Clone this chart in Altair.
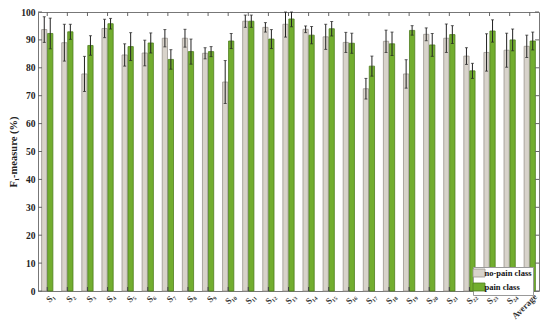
import altair as alt
import pandas as pd

groups = ["S₁", "S₂", "S₃", "S₄", "S₅", "S₆", "S₇", "S₈", "S₉", "S₁₀", "S₁₁", "S₁₂",
          "S₁₃", "S₁₄", "S₁₅", "S₁₆", "S₁₇", "S₁₈", "S₁₉", "S₂₀", "S₂₁", "S₂₂", "S₂₃", "S₂₄",
          "Average"]
series = ["no-pain class", "pain class"]

nopain_mean = [93.7, 89.0, 77.8, 94.1, 84.6, 85.3, 90.6, 90.6, 85.2, 74.9, 96.7, 94.5,
               95.6, 93.8, 91.1, 89.1, 72.5, 89.5, 77.8, 92.0, 90.6, 84.2, 85.5, 86.3, 87.7]
nopain_err = [4.6, 6.6, 6.3, 3.3, 4.0, 4.6, 3.1, 3.2, 2.0, 7.7, 2.2, 1.7,
              4.6, 1.2, 4.5, 3.6, 3.7, 4.0, 5.1, 2.3, 5.1, 3.0, 6.7, 6.1, 4.0]
pain_mean = [92.3, 92.9, 88.0, 95.8, 87.6, 88.9, 83.0, 85.8, 85.8, 89.6, 96.7, 90.3,
             97.5, 91.7, 94.0, 88.8, 80.6, 88.6, 93.4, 88.2, 91.9, 78.9, 93.2, 90.0, 89.6]
pain_err = [5.5, 2.7, 3.5, 1.9, 5.0, 3.6, 3.5, 4.5, 1.8, 2.7, 2.2, 3.4,
            2.8, 3.1, 2.6, 3.6, 3.6, 4.2, 1.7, 4.1, 3.2, 2.7, 4.0, 3.9, 3.2]
y_ticks = [0, 10, 20, 30, 40, 50, 60, 70, 80, 90, 100]

rows = []
for s, means, errs in [(series[0], nopain_mean, nopain_err), (series[1], pain_mean, pain_err)]:
    for g, m, e in zip(groups, means, errs):
        rows.append({"group": g, "series": s, "mean": m,
                     "lo": m - e, "hi": min(m + e, 100)})
df = pd.DataFrame(rows)
gdf = pd.DataFrame({"group": groups})
ydf = pd.DataFrame({"v": y_ticks})

W, H = 501, 279
FONT = "Liberation Serif"

xscale = alt.Scale(domain=groups, paddingInner=0.44, paddingOuter=0.18)
xoff = alt.Scale(domain=series, paddingInner=0.12)
yscale = alt.Scale(domain=[0, 100], nice=False)

x_axis = alt.Axis(title=None, labelAngle=-45, labelFont=FONT, labelFontWeight="bold",
                  labelFontSize=9, labelColor="#333", ticks=False, domain=False,
                  labelPadding=1, labelAlign="right", labelBaseline="top",
                  labelOverlap=False, labelOffset=3)
y_axis = alt.Axis(values=y_ticks, title="F₁-measure (%)", titleFont=FONT,
                  titleFontWeight="bold", titleFontSize=10.5, titleColor="#222",
                  labelFont=FONT, labelFontWeight="bold", labelFontSize=9.5,
                  labelColor="#222", ticks=False, domain=False, grid=False,
                  labelPadding=3, titleX=-20, labelOverlap=False, labelFlush=False)

xa = alt.X("group:N", scale=xscale, sort=groups, axis=x_axis)
xo = alt.XOffset("series:N", scale=xoff, sort=series)

bars = alt.Chart(df).mark_bar(strokeWidth=0.8).encode(
    x=xa,
    xOffset=xo,
    y=alt.Y("mean:Q", scale=yscale, axis=y_axis, title="F₁-measure (%)"),
    fill=alt.Fill("series:N", sort=series,
                  scale=alt.Scale(domain=series, range=["#d8d3cb", "#72ad2f"]),
                  legend=alt.Legend(title=None, orient="none", legendX=435, legendY=255,
                                    labelFont=FONT, labelFontWeight="bold", labelFontSize=8.5,
                                    labelColor="#111",
                                    symbolType="M-1.5,-1L1.5,-1L1.5,1L-1.5,1Z",
                                    symbolSize=64, symbolStrokeWidth=0.8,
                                    fillColor="white", strokeColor="#999", padding=1.5,
                                    rowPadding=1, labelOffset=1)),
    stroke=alt.Stroke("series:N", sort=series,
                      scale=alt.Scale(domain=series, range=["#9a968f", "#4f7f1f"]),
                      legend=None),
)

err = alt.Chart(df).mark_rule(color="#222", strokeWidth=1).encode(
    x=xa,
    xOffset=xo,
    y=alt.Y("lo:Q", scale=yscale, axis=y_axis, title="F₁-measure (%)"),
    y2="hi:Q",
)
cap_hi = alt.Chart(df).mark_tick(color="#222", size=3, thickness=1).encode(
    x=xa,
    xOffset=xo,
    y=alt.Y("hi:Q", scale=yscale, axis=y_axis, title="F₁-measure (%)"),
)
cap_lo = alt.Chart(df).mark_tick(color="#222", size=3, thickness=1).encode(
    x=xa,
    xOffset=xo,
    y=alt.Y("lo:Q", scale=yscale, axis=y_axis, title="F₁-measure (%)"),
)

tick_col = "#666"
xt_top = alt.Chart(gdf).mark_rule(color=tick_col, strokeWidth=1).encode(
    x=xa, y=alt.value(0), y2=alt.value(4))
xt_bot = alt.Chart(gdf).mark_rule(color="#444", strokeWidth=1).encode(
    x=xa, y=alt.value(H - 4), y2=alt.value(H))
yt_left = alt.Chart(ydf).mark_rule(color=tick_col, strokeWidth=1).encode(
    y=alt.Y("v:Q", scale=yscale, axis=y_axis, title="F₁-measure (%)"),
    x=alt.value(0), x2=alt.value(4))
yt_right = alt.Chart(ydf).mark_rule(color=tick_col, strokeWidth=1).encode(
    y=alt.Y("v:Q", scale=yscale, axis=y_axis, title="F₁-measure (%)"),
    x=alt.value(W - 4), x2=alt.value(W))

chart = alt.layer(bars, err, cap_hi, cap_lo, xt_top, xt_bot, yt_left, yt_right).properties(
    width=W, height=H,
    autosize=alt.AutoSizeParams(type="none"),
    padding={"left": 30, "top": 4, "right": 3, "bottom": 29},
    background="white",
).configure_view(stroke="#777", strokeWidth=1)

chart.save("out.html", embed_options={"renderer": "svg", "actions": False})
